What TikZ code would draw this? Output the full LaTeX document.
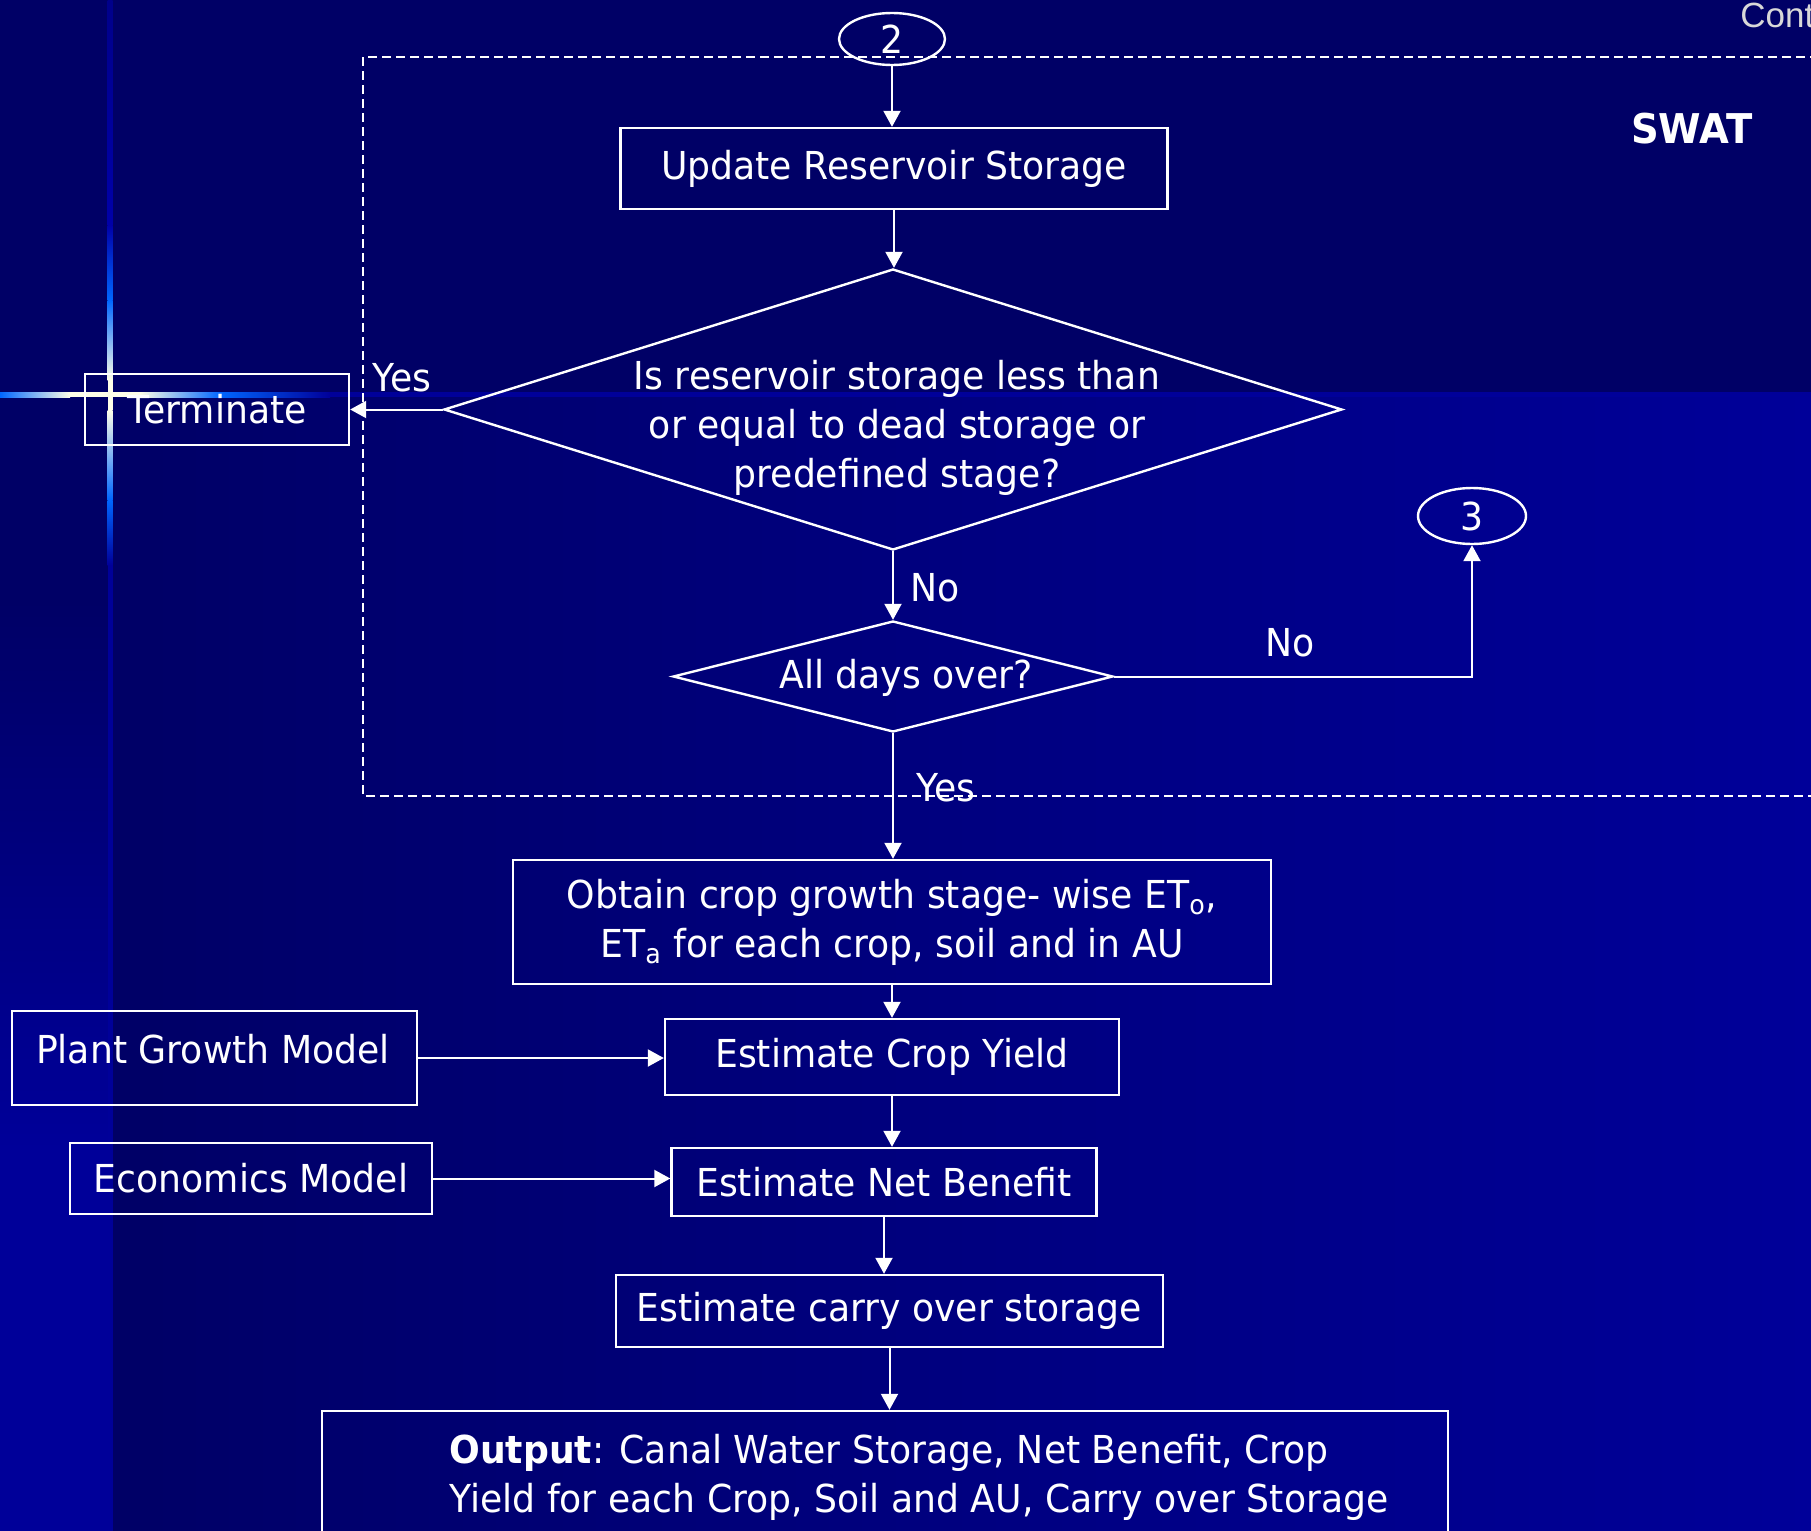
\documentclass[tikz,border=0pt]{standalone}
\usepackage{fontspec}
\setmainfont[FakeStretch=0.94]{DejaVu Sans}
\newfontfamily\arialfont{Liberation Sans}
\usetikzlibrary{shapes.geometric,arrows.meta}
\definecolor{bgdark}{HTML}{000066}
\definecolor{bglight}{HTML}{000099}
\definecolor{glowdim}{HTML}{00008A}
\definecolor{glowmid}{HTML}{0000A8}
\definecolor{glowblue}{HTML}{0066FF}
\definecolor{glowwhite}{HTML}{FFFFE8}
\definecolor{contgray}{HTML}{D8D8D8}
\begin{document}
\begin{tikzpicture}[x=0.5pt,y=-0.5pt,
  every node/.style={text=white, font=\fontsize{19.25pt}{24.5pt}\selectfont},
  box/.style={draw=white, line width=1.2pt, rectangle, inner sep=0pt, align=center},
  dia/.style={draw=white, line width=1.2pt, diamond, inner sep=0pt},
  conn/.style={draw=white, line width=1.2pt, ellipse, inner sep=0pt},
  arr/.style={white, line width=1pt, -{Triangle[length=8pt,width=8.5pt]}},
  lbl/.style={inner sep=0pt, align=center},
  region/.style={white, line width=1pt, dash pattern=on 4.5pt off 2.5pt}
]
\useasboundingbox (0,0) rectangle (1811,1531);
\clip (0,0) rectangle (1811,1531);
% background
\fill[bgdark] (0,0) rectangle (1811,1531);
\shade[left color=bgdark, right color=bglight] (112.5,394.5) rectangle (1811,1531);
\shade[top color=bgdark, bottom color=bglight] (0,600) rectangle (107.5,1150);
\fill[bglight] (0,1150) rectangle (107.5,1531);
% glow lines
\shade[top color=glowdim, bottom color=glowmid] (107.5,0) rectangle (112.5,225);
\shade[top color=glowmid, bottom color=glowblue] (107.5,225) rectangle (112.5,300);
\shade[top color=glowblue, bottom color=glowwhite] (107.5,300) rectangle (112.5,380);
\fill[glowwhite] (107.5,380) rectangle (112.5,410);
\shade[top color=glowwhite, bottom color=glowblue] (107.5,410) rectangle (112.5,500);
\shade[top color=glowblue, bottom color=bglight] (107.5,500) rectangle (112.5,565);
\fill[bglight] (107.5,565) rectangle (112.5,1531);
\shade[left color=glowblue, right color=glowwhite] (0,392) rectangle (70,397);
\fill[glowwhite] (70,392) rectangle (140,397);
\shade[left color=glowwhite, right color=glowblue] (140,392) rectangle (220,397);
\shade[left color=glowblue, right color=bglight] (220,392) rectangle (330,397);
\fill[bglight] (330,392) rectangle (1811,397);

% dashed SWAT region
\draw[region] (363,57) rectangle (1850,796);

% nodes
\node[conn, minimum width=53pt, minimum height=26pt] (c2) at (892,39) {2};
\node[box, minimum width=273.5pt, minimum height=40.5pt] (upd) at (894,168.5) {Update Reservoir Storage};
\node[dia, minimum width=449pt, minimum height=140.5pt] (d1) at (893,409.5) {};
\node[lbl, font=\fontsize{19.25pt}{24.6pt}\selectfont] (d1t) at (897,428) {Is reservoir storage less than\\or equal to dead storage or\\predefined stage?};
\node[box, minimum width=132pt, minimum height=35.5pt] (term) at (217,409.5) {Terminate};
\node[dia, minimum width=220pt, minimum height=55.5pt] (d2) at (893,676.5) {};
\node[lbl] (d2t) at (906,678) {All days over?};
\node[conn, minimum width=54pt, minimum height=28pt] (c3) at (1472,516) {3};
\node[box, minimum width=379pt, minimum height=62pt] (obt) at (892,922) {Obtain crop growth stage- wise ET\textsubscript{o},\\ET\textsubscript{a} for each crop, soil and in AU};
\node[box, minimum width=202.5pt, minimum height=47pt] (pgm) at (214.5,1058) {};
\node[lbl] (pgmt) at (213,1049) {Plant Growth Model};
\node[box, minimum width=227pt, minimum height=38pt] (ecy) at (892,1057) {Estimate Crop Yield};
\node[box, minimum width=181pt, minimum height=35.5pt] (eco) at (251,1178.5) {Economics Model};
\node[box, minimum width=212.5pt, minimum height=34pt] (enb) at (884,1182) {Estimate Net Benefit};
\node[box, minimum width=273.5pt, minimum height=36pt] (cos) at (889.5,1311) {Estimate carry over storage};
\node[box, minimum width=563pt, minimum height=74.5pt] (out) at (885,1485.5) {};
\node[lbl, anchor=west, align=left] (outt) at (449,1477) {\textbf{Output}: Canal Water Storage, Net Benefit, Crop\\Yield for each Crop, Soil and AU, Carry over Storage};

% labels
\node[lbl] (yes1) at (402,378) {Yes};
\node[lbl] (no1) at (935,588) {No};
\node[lbl] (no2) at (1290,643) {No};
\node[lbl] (yes2) at (946,788) {Yes};
\node[lbl, font=\bfseries\fontsize{20.5pt}{24pt}\selectfont] (swat) at (1692,129) {SWAT};
\node[lbl, anchor=base west, text=contgray, font=\arialfont\fontsize{17.5pt}{20pt}\selectfont] (cont) at (1740,27) {Cont};

% connectors
\draw[arr] (c2.south) -- (c2.south |- upd.north);
\draw[arr] (upd.south) -- (upd.south |- d1.north);
\draw[arr] (d1.west) -- (term.east);
\draw[arr] (d1.south) -- (d2.north);
\draw[arr] (d2.east) -| (c3.south);
\draw[arr] (d2.south) -- (d2.south |- obt.north);
\draw[arr] (obt.south) -- (obt.south |- ecy.north);
\draw[arr] (pgm.east) -- (pgm.east -| ecy.west);
\draw[arr] (ecy.south) -- (ecy.south |- enb.north);
\draw[arr] (eco.east) -- (eco.east -| enb.west);
\draw[arr] (enb.south) -- (enb.south |- cos.north);
\draw[arr] (cos.south) -- (cos.south |- out.north);
\end{tikzpicture}
\end{document}
